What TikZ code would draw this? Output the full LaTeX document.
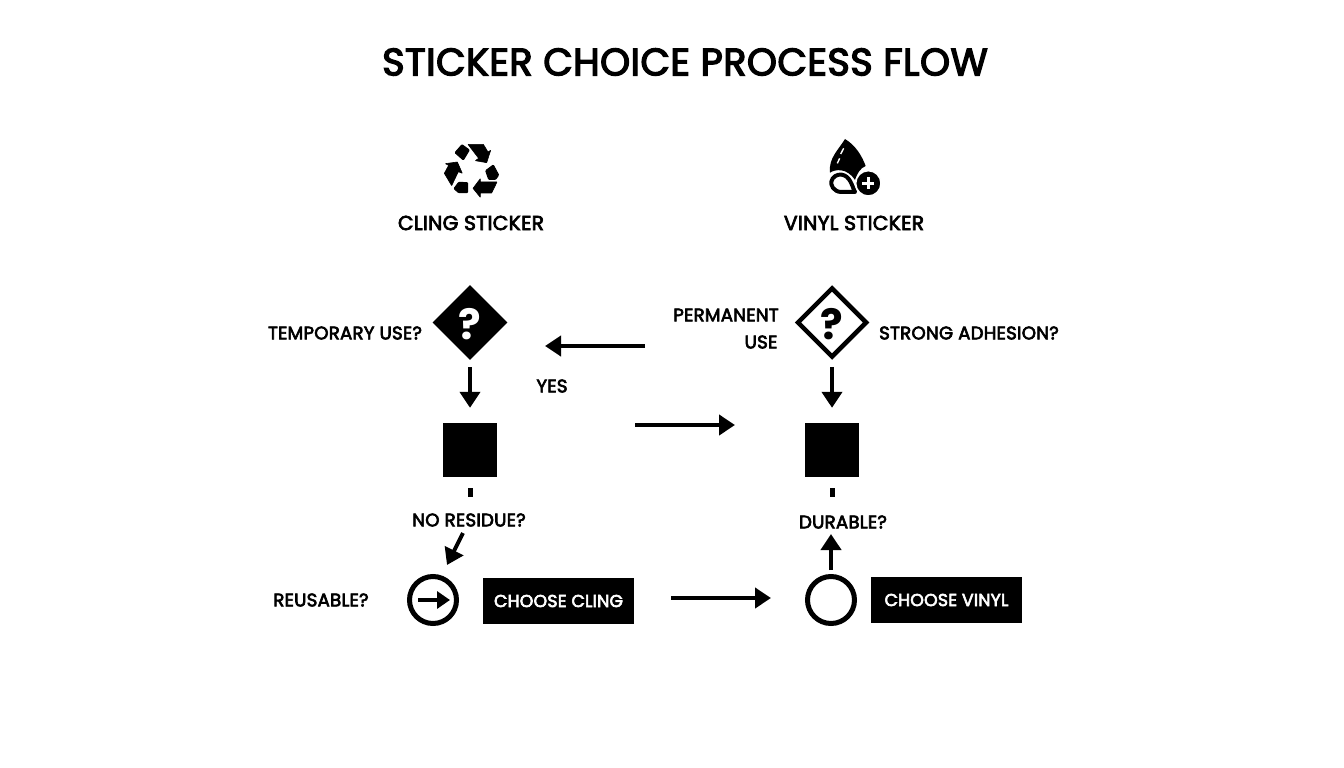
\documentclass[tikz,border=0pt]{standalone}
\usepackage{fontspec}
\setmainfont{Poppins}[FakeBold=3.5,LetterSpace=1.2]
\newfontfamily\qfont{Poppins}
\usetikzlibrary{shapes.geometric,arrows.meta}
\tikzset{
  lab/.style={font=\fontsize{18.2}{22}\selectfont, text=black, inner sep=0pt, align=center},
  head/.style={lab, font=\fontsize{20.3}{24}\selectfont},
  arr/.style={line width=4pt, -{Triangle[length=16pt,width=20pt]}},
  tick/.style={line width=5pt},
  sq/.style={draw=none, fill=black, minimum size=54pt, inner sep=0pt},
  dia/.style={diamond, aspect=1, inner sep=0pt, line join=miter},
  dfill/.style={dia, fill=black, text=white, minimum width=75pt, minimum height=75pt},
  dline/.style={dia, draw=black, line width=4.5pt, fill=white, text=black, minimum width=70pt, minimum height=70pt},
  qmark/.style={font=\qfont\bfseries\fontsize{42}{42}\selectfont, inner sep=0pt},
  ring/.style={circle, draw=black, line width=5pt, minimum size=47pt, inner sep=0pt},
  btn/.style={fill=black, text=white, minimum width=151pt, minimum height=46pt, inner sep=0pt, font=\fontsize{17.3}{20}\selectfont},
  blob/.style={fill=black, draw=black, line width=1pt, line join=round, rounded corners=0.8pt},
  barrow/.style={fill=black, draw=black, line width=0.6pt, line join=round, rounded corners=0.3pt}
}
\begin{document}
\begin{tikzpicture}[x=1pt,y=-1pt]
\useasboundingbox (0,0) rectangle (1344,768);
\node[inner sep=0pt, font=\fontsize{38.2}{40}\selectfont] (title) at (685,62) {STICKER CHOICE PROCESS FLOW};

% recycle icon
\begin{scope}[shift={(420,130)},x=0.3333pt,y=-0.3333pt]
\path[blob] (105,68)--(126,44)--(148,60)--(130,90)--cycle;
\path[barrow] (144,43)--(190,43)--(204,66)--(212,61)--(200,98)--(166,92)--(176,85)--cycle;
\path[blob] (197,122)--(220,105)--(236,135)--(227,148)--(206,148)--cycle;
\path[barrow] (231,156)--(215,189)--(181,189)--(181,202)--(159,175)--(181,146)--(181,156)--cycle;
\path[blob] (116,157)--(143,158)--(143,188)--(116,188)--(102,176)--cycle;
\path[barrow] (76,101)--(112,96)--(127,130)--(115,125)--(95,167)--(73,130)--(86,106)--cycle;
\end{scope}

% drop icon
\begin{scope}[shift={(800,130)},x=0.3333pt,y=-0.3333pt]
\fill[black] (135,27) .. controls (115,60) and (85,85) .. (90,128) .. controls (105,118) and (140,112) .. (165,150) .. controls (172,130) and (180,115) .. (197,108) .. controls (185,75) and (165,45) .. (135,27) -- cycle;
\draw[white,line width=1.4pt] (131,55) -- (122,72);
\draw[white,line width=1.4pt] (119,85) -- (112,100);
\draw[black,line width=4pt,line join=round] (165,186) -- (125,186) .. controls (100,186) and (92,165) .. (94,155) .. controls (97,140) and (112,132) .. (125,134) .. controls (150,138) and (155,165) .. (165,186) -- cycle;
\fill[black,draw=white,line width=1.5pt] (205,160) circle[radius=38];
\draw[white,line width=2.6pt] (187,160) -- (223,160) (205,142) -- (205,178);
\end{scope}

\node[head] (cling) at (471,223) {CLING STICKER};
\node[head] (vinyl) at (854,223) {VINYL STICKER};

\node[dfill] (q1) at (470,322.5) {};
\node[qmark,text=white] (q1m) at (470,324) {?};
\node[dline] (q2) at (832,322.5) {};
\node[qmark,text=black] (q2m) at (832,324) {?};

\node[lab] (temp) at (345,333) {TEMPORARY USE?};
\node[lab] (perm1) at (726,315) {PERMANENT};
\node[lab] (perm2) at (761,342) {USE};
\node[lab] (strong) at (969,333) {STRONG ADHESION?};
\node[lab] (yes) at (552,386) {YES};

\node[sq] (s1) at (470,450) {};
\node[sq] (s2) at (832,450) {};

\node[lab] (nores) at (469,520) {NO RESIDUE?};
\node[lab] (dur) at (843,522) {DURABLE?};
\node[lab] (reus) at (321,600) {REUSABLE?};

\node[ring] (c1) at (433,600) {};
\node[ring] (c2) at (831,600) {};
\node[btn] (b1) at (558.5,601) {CHOOSE CLING};
\node[btn] (b2) at (946.5,600) {CHOOSE VINYL};

\coordinate (a1s) at (645,346); \coordinate (a1e) at (545,346);
\coordinate (a2s) at (635,425); \coordinate (a2e) at (735,425);
\coordinate (a3s) at (671,598); \coordinate (a3e) at (771,598);
\coordinate (a4s) at (463,533); \coordinate (a4e) at (447,565);
\coordinate (a5s) at (831,570); \coordinate (a5e) at (831,534);
\coordinate (t1s) at (470,488); \coordinate (t1e) at (470,497);
\coordinate (t2s) at (832,488); \coordinate (t2e) at (832,497);
\coordinate (i1s) at (418,600); \coordinate (i1e) at (450,600);

\draw[arr] (a1s) -- (a1e);
\draw[arr] (a2s) -- (a2e);
\draw[arr] (a3s) -- (a3e);
\draw[arr,shorten <=7pt,shorten >=15pt] (q1) -- (s1);
\draw[arr,shorten <=7pt,shorten >=15pt] (q2) -- (s2);
\draw[arr] (a4s) -- (a4e);
\draw[arr] (a5s) -- (a5e);
\draw[tick] (t1s) -- (t1e);
\draw[tick] (t2s) -- (t2e);
\draw[line width=4pt,-{Triangle[length=13pt,width=17pt]}] (i1s) -- (i1e);
\end{tikzpicture}
\end{document}
